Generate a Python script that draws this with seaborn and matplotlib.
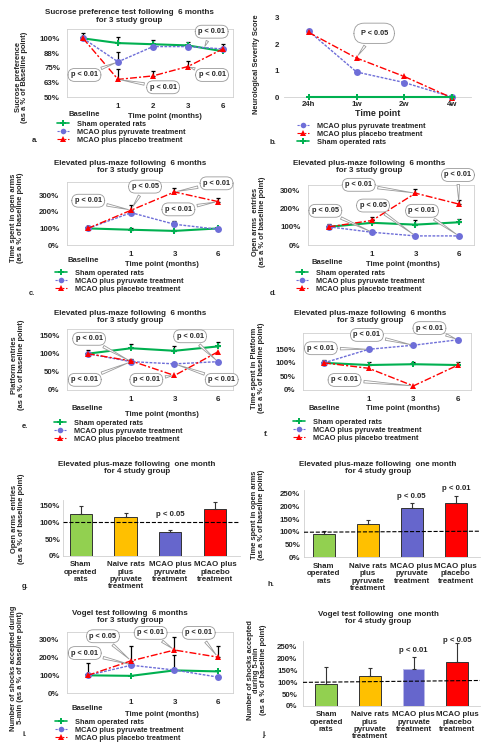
import numpy as np
import matplotlib
matplotlib.use('Agg')
import matplotlib.pyplot as plt
import seaborn as sns
from matplotlib.lines import Line2D

sns.set_style('white')
plt.rcParams['font.family'] = ['Liberation Sans', 'DejaVu Sans']
plt.rcParams['font.weight'] = 'bold'
plt.rcParams['axes.labelweight'] = 'bold'

# ------------------------------------------------------------------ data
SHAM = 'Sham operated rats'
PYR = 'MCAO plus pyruvate treatment'
PLA = 'MCAO plus placebo treatment'

# a. Sucrose preference (6 months)
a_x = ['Baseline', '1', '2', '3', '6']
a_sham = [100, 96, 95, 94, 89]
a_pyr = [100, 80, 93, 93, 91]
a_pla = [100, 65, 68, 76, 91]
a_sham_err = [5, 5, 4, 3, 0]
a_pyr_err = [0, 8, 0, 0, 0]
a_pla_err = [0, 9, 4, 5, 4]
a_yticks = [50, 62.5, 75, 87.5, 100]
a_yticklabels = ['50%', '63%', '75%', '88%', '100%']

# b. Neurological severity score
b_x = ['24h', '1w', '2w', '4w']
b_pyr = [2.5, 0.95, 0.55, 0.0]
b_pla = [2.45, 1.48, 0.78, -0.03]
b_sham = [0, 0, 0, 0]

# c. Time spent in open arms (6 months)
c_x = ['Baseline', '1', '3', '6']
c_sham = [100, 92, 85, 100]
c_pyr = [100, 195, 125, 95]
c_pla = [100, 210, 320, 262]
c_sham_err = [15, 10, 8, 8]
c_pyr_err = [0, 0, 20, 0]
c_pla_err = [0, 30, 22, 22]

# d. Open arms entries (6 months)
d_x = ['Baseline', '1', '3', '6']
d_sham = [100, 122, 112, 125]
d_pyr = [100, 70, 50, 50]
d_pla = [100, 135, 285, 225]
d_sham_err = [15, 15, 25, 20]
d_pyr_err = [0, 0, 0, 0]
d_pla_err = [0, 20, 25, 20]

# e. Platform entries (6 months)
e_x = ['Baseline', '1', '3', '6']
e_sham = [100, 115, 108, 120]
e_pyr = [100, 78, 72, 78]
e_pla = [100, 80, 40, 105]
e_sham_err = [10, 12, 12, 12]
e_pyr_err = [0, 0, 0, 0]
e_pla_err = [0, 5, 0, 0]

# f. Time spent in platform (6 months)
f_x = ['Baseline', '1', '3', '6']
f_sham = [100, 92, 95, 92]
f_pyr = [100, 150, 165, 185]
f_pla = [100, 80, 15, 92]
f_sham_err = [10, 10, 10, 10]
f_pyr_err = [0, 10, 0, 0]
f_pla_err = [0, 0, 0, 0]

# i. Vogel test (6 months)
i_x = ['Baseline', '1', '3', '6']
i_sham = [100, 97, 128, 122]
i_pyr = [100, 157, 130, 90]
i_pla = [100, 182, 243, 203]
i_sham_err = [0, 0, 0, 0]
i_pyr_err = [0, 0, 85, 0]
i_pla_err = [70, 83, 72, 65]

pct_ticks_300 = [0, 100, 200, 300]
pct_labels_300 = ['0%', '100%', '200%', '300%']
pct_ticks_150 = [0, 50, 100, 150]
pct_labels_150 = ['0%', '50%', '100%', '150%']
pct_ticks_250 = [0, 50, 100, 150, 200, 250]
pct_labels_250 = ['0%', '50%', '100%', '150%', '200%', '250%']

# bar charts (one month, 4 groups)
bar_groups = ['Sham\noperated\nrats', 'Naive rats\nplus\npyruvate\ntreatment',
              'MCAO plus\npyruvate\ntreatment', 'MCAO plus\nplacebo\ntreatment']
g_vals = [125, 115, 70, 138]
g_err = [22, 13, 6, 20]
h_vals = [92, 132, 193, 215]
h_err = [12, 13, 22, 25]
j_vals = [95, 125, 155, 185]
j_err = [72, 35, 52, 83]

# ------------------------------------------------------------------ style
colors = {SHAM: '#00B050', PYR: '#6E6ED8', PLA: '#FF0000'}
markers = {SHAM: 'P', PYR: 'o', PLA: '^'}
lstyles = {SHAM: '-', PYR: (0, (2, 1)), PLA: (0, (5, 1.5, 1.5, 1.5))}
lwidths = {SHAM: 1.5, PYR: 1.0, PLA: 1.0}
bar_colors = ['#92D050', '#FFC000', '#6666CC', '#FF0000']
GRID_GREY = '#D0D0D0'
BUBBLE_EC = '#9A9A9A'

W, H = 482, 750
fig = plt.figure(figsize=(W / 100, H / 100), dpi=100)


def axes_px(l, t, r, b):
    return fig.add_axes([l / W, 1 - b / H, (r - l) / W, (b - t) / H])


def ftext(x, y, s, **kw):
    kw.setdefault('ha', 'center')
    kw.setdefault('va', 'center')
    kw.setdefault('fontweight', 'bold')
    fig.text(x / W, 1 - y / H, s, **kw)


def callout(ax, text, tip, txt, pad=0.4, rs=0.9, fs=5.3):
    ax.annotate(text, xy=tip, xytext=txt, textcoords='data', ha='center', va='center',
                fontsize=fs, fontweight='bold', annotation_clip=False, zorder=6,
                bbox=dict(boxstyle=f'round,pad={pad},rounding_size={rs}', fc='white',
                          ec=BUBBLE_EC, lw=0.6),
                arrowprops=dict(arrowstyle='wedge,tail_width=0.35,shrink_factor=0.5',
                                fc='white', ec=BUBBLE_EC, lw=0.6))


def legend_px(ax, order, text_x, row_y):
    handles = [Line2D([], [], color=colors[g], marker=markers[g], linestyle=lstyles[g],
                      lw=lwidths[g] * 0.8, markersize=4, markeredgewidth=0) for g in order]
    ax.legend(handles, order, loc='upper left',
              bbox_to_anchor=((text_x - 20) / W, 1 - (row_y - 4.5) / H),
              bbox_transform=fig.transFigure, frameon=False, fontsize=5.3,
              handlelength=1.6, handletextpad=1.1, labelspacing=0.12,
              borderpad=0, borderaxespad=0)


def line_panel(ax, cats, series, ylim, yticks, yticklabels, xlim, xpad, ypad,
               frame=True):
    pos = np.arange(len(cats))
    for grp, vals, errs in series:
        sns.lineplot(x=pos, y=vals, ax=ax, color=colors[grp], marker=markers[grp],
                     linestyle=lstyles[grp], linewidth=lwidths[grp], markersize=5,
                     markeredgewidth=0, errorbar=None, zorder=3)
        if errs is not None:
            e = np.asarray(errs, float)
            m = e > 0
            if m.any():
                ax.errorbar(pos[m], np.asarray(vals, float)[m],
                            yerr=[np.zeros(m.sum()), e[m]], fmt='none',
                            ecolor='black', elinewidth=0.9, capsize=1.3,
                            capthick=0.9, zorder=2)
    ax.set_xlim(*xlim)
    ax.set_ylim(*ylim)
    ax.set_yticks(yticks, yticklabels)
    ax.set_xticks(pos, [c if c != 'Baseline' else '' for c in cats])
    ax.tick_params(axis='x', length=0, pad=xpad, labelsize=5.7)
    ax.tick_params(axis='y', length=0, pad=ypad, labelsize=5.7)
    ax.set_xlabel('')
    ax.set_ylabel('')
    for s in ax.spines.values():
        s.set_color(GRID_GREY)
        s.set_linewidth(0.6)
        s.set_visible(frame)


def bar_panel(ax, vals, errs, ylim, yticks, yticklabels, xlim, xpad, ypad, ref, edges):
    pos = np.arange(len(bar_groups))
    sns.barplot(x=bar_groups, y=vals, hue=bar_groups, palette=bar_colors, legend=False,
                ax=ax, width=0.5, linewidth=0.7, saturation=1)
    for p, ec in zip(ax.patches, edges):
        p.set_edgecolor(ec)
    ax.errorbar(pos, vals, yerr=[np.zeros(len(vals)), errs], fmt='none', ecolor='#333333',
                elinewidth=0.8, capsize=1.3, capthick=0.8, zorder=1)
    ax.plot(list(xlim), ref, ls='--', color='black', lw=0.8, zorder=3)
    ax.set_xlim(*xlim)
    ax.set_ylim(*ylim)
    ax.set_yticks(yticks, yticklabels)
    ax.tick_params(axis='x', length=0, pad=xpad, labelsize=5.7)
    ax.tick_params(axis='y', length=0, pad=ypad, labelsize=5.7)
    for lab in ax.get_xticklabels():
        lab.set_linespacing(1.1)
        lab.set_fontweight('bold')
    ax.set_xlabel('')
    ax.set_ylabel('')
    for k, s in ax.spines.items():
        s.set_color(GRID_GREY)
        s.set_linewidth(0.6)
        s.set_visible(k in ('left', 'bottom'))


TITLE6 = 'Elevated plus-maze following  6 months\nfor 3 study group'
TITLE1 = 'Elevated plus-maze following  one month\nfor 4 study group'
TFS = 5.8
LFS = 5.4
XFS = 5.5
YLS = 0.95
DARK = ['#333333'] * 4

# ------------------------------------------------------------------ a
ax = axes_px(67, 29, 233, 97)
line_panel(ax, a_x, [(SHAM, a_sham, a_sham_err), (PYR, a_pyr, a_pyr_err), (PLA, a_pla, a_pla_err)],
           (50, 108), a_yticks, a_yticklabels, (-0.46, 4.29), 4, 5)
callout(ax, 'p < 0.01', (1, 80), (0.04, 68.8))
callout(ax, 'p < 0.01', (1, 65), (2.29, 58.3))
callout(ax, 'p < 0.01', (3, 76), (3.69, 68.8))
callout(ax, 'p < 0.01', (3.45, 91), (3.68, 105.7))
ftext(129, 16.5, 'Sucrose preference test following  6 months\nfor 3 study group', fontsize=TFS, linespacing=1.05)
ftext(21.5, 77, 'Sucrose preference\n(as a % of Baseline point)', fontsize=LFS, rotation=90, linespacing=YLS)
ftext(84, 115, a_x[0], fontsize=XFS)
ftext(165, 116, 'Time point (months)', fontsize=XFS)
ftext(35, 140, 'a.', fontsize=5.5)
legend_px(ax, [SHAM, PYR, PLA], 77, 125)

# ------------------------------------------------------------------ b
ax = axes_px(284, 18, 471, 97)
line_panel(ax, b_x, [(PYR, b_pyr, None), (PLA, b_pla, None), (SHAM, b_sham, None)],
           (0, 3), [0, 1, 2, 3], ['0', '1', '2', '3'], (-0.52, 3.4), 3, 3.6, frame=False)
ax.spines['bottom'].set_visible(True)
for l in ax.lines:
    l.set_clip_on(False)
callout(ax, 'P < 0.05', (1, 1.5), (1.37, 2.42), pad=0.9, rs=1.4)
ftext(256, 64, 'Neurological Severity Score', fontsize=5.4, rotation=90)
ftext(378, 114, 'Time point', fontsize=6.4)
ftext(273, 142, 'b.', fontsize=5.5)
legend_px(ax, [PYR, PLA, SHAM], 317, 127)

# ------------------------------------------------------------------ c
ax = axes_px(67, 182, 233, 245)
line_panel(ax, c_x, [(SHAM, c_sham, c_sham_err), (PYR, c_pyr, c_pyr_err), (PLA, c_pla, c_pla_err)],
           (0, 380), pct_ticks_300, pct_labels_300, (-0.48, 3.35), 4, 5.5)
callout(ax, 'p < 0.01', (1, 210), (0.01, 267))
callout(ax, 'p < 0.05', (1, 215), (1.32, 352))
callout(ax, 'p < 0.01', (2, 320), (2.97, 372))
callout(ax, 'p < 0.01', (3, 262), (2.09, 215))
ftext(130, 167, TITLE6, fontsize=TFS, linespacing=1.05)
ftext(17, 218, 'Time spent in open arms\n(as a % of baseline point)', fontsize=LFS, rotation=90, linespacing=YLS)
ftext(83, 260, c_x[0], fontsize=XFS)
ftext(162, 265, 'Time point (months)', fontsize=XFS)
ftext(32, 293, 'c.', fontsize=5.5)
legend_px(ax, [SHAM, PYR, PLA], 75, 274)

# ------------------------------------------------------------------ d
ax = axes_px(308, 185, 474, 245)
line_panel(ax, d_x, [(SHAM, d_sham, d_sham_err), (PYR, d_pyr, d_pyr_err), (PLA, d_pla, d_pla_err)],
           (0, 330), pct_ticks_300, pct_labels_300, (-0.48, 3.35), 4, 5.5)
callout(ax, 'p < 0.05', (1, 70), (-0.08, 188))
callout(ax, 'p < 0.05', (2, 50), (1.02, 217))
callout(ax, 'p < 0.01', (2, 285), (0.69, 331))
callout(ax, 'p < 0.01', (3, 225), (2.98, 385))
callout(ax, 'p < 0.01', (3, 50), (2.15, 188))
ftext(369, 167, TITLE6, fontsize=TFS, linespacing=1.05)
ftext(259, 222, 'Open arms  entries\n(as a % of baseline point)', fontsize=LFS, rotation=90, linespacing=YLS)
ftext(327, 263, d_x[0], fontsize=XFS)
ftext(403, 265, 'Time point (months)', fontsize=XFS)
ftext(273, 293, 'd.', fontsize=5.5)
legend_px(ax, [SHAM, PYR, PLA], 316, 274)

# ------------------------------------------------------------------ e
ax = axes_px(67, 329, 233, 390)
line_panel(ax, e_x, [(SHAM, e_sham, e_sham_err), (PYR, e_pyr, e_pyr_err), (PLA, e_pla, e_pla_err)],
           (0, 168), pct_ticks_150, pct_labels_150, (-0.48, 3.35), 4.3, 5.5)
callout(ax, 'p < 0.01', (1, 78), (0.03, 141))
callout(ax, 'p < 0.01', (1, 78), (-0.07, 28))
callout(ax, 'p < 0.01', (2, 40), (1.35, 28))
callout(ax, 'p < 0.01', (3, 78), (2.36, 148))
callout(ax, 'p < 0.01', (2, 72), (3.09, 28))
ftext(130, 317, TITLE6, fontsize=TFS, linespacing=1.05)
ftext(18, 365, 'Platform entries\n(as a % of baseline point)', fontsize=LFS, rotation=90, linespacing=YLS)
ftext(87, 408, e_x[0], fontsize=XFS)
ftext(162, 415, 'Time point (months)', fontsize=XFS)
ftext(25, 427, 'e.', fontsize=5.5)
legend_px(ax, [SHAM, PYR, PLA], 74, 424)

# ------------------------------------------------------------------ f
ax = axes_px(303, 333, 471, 390)
line_panel(ax, f_x, [(SHAM, f_sham, f_sham_err), (PYR, f_pyr, f_pyr_err), (PLA, f_pla, f_pla_err)],
           (0, 210), pct_ticks_150, pct_labels_150, (-0.47, 3.29), 4.3, 5.5)
callout(ax, 'p < 0.01', (1, 150), (-0.07, 154))
callout(ax, 'p < 0.01', (2, 165), (0.96, 203))
callout(ax, 'p < 0.01', (3, 185), (2.36, 228))
callout(ax, 'p < 0.01', (2, 15), (0.46, 37))
ftext(370, 317, TITLE6, fontsize=TFS, linespacing=1.05)
ftext(258, 368, 'Time spent in Platform\n(as a % of baseline point)', fontsize=LFS, rotation=90, linespacing=YLS)
ftext(324, 408, f_x[0], fontsize=XFS)
ftext(403, 409, 'Time point (months)', fontsize=XFS)
ftext(266, 435, 'f.', fontsize=5.5)
legend_px(ax, [SHAM, PYR, PLA], 313, 423)

# ------------------------------------------------------------------ g
ax = axes_px(63, 500, 240, 556)
bar_panel(ax, g_vals, g_err, (0, 165), pct_ticks_150, pct_labels_150, (-0.40, 3.56), 3.6, 2,
          [100, 100], DARK)
ax.text(2, 123, 'p < 0.05', ha='center', va='center', fontsize=5.6, fontweight='bold')
ftext(137, 468, TITLE1, fontsize=TFS, linespacing=1.05)
ftext(18, 519, 'Open arms  entries\n(as a % of baseline point)', fontsize=LFS, rotation=90, linespacing=YLS)
ftext(25, 587, 'g.', fontsize=5.5)

# ------------------------------------------------------------------ h
ax = axes_px(304, 490, 480, 557)
bar_panel(ax, h_vals, h_err, (0, 265), pct_ticks_250, pct_labels_250, (-0.45, 3.55), 4, 2.7,
          [98, 102], DARK)
ax.text(2, 240, 'p < 0.05', ha='center', va='center', fontsize=5.6, fontweight='bold')
ax.text(3, 270, 'p < 0.01', ha='center', va='center', fontsize=5.6, fontweight='bold')
ftext(378, 468, TITLE1, fontsize=TFS, linespacing=1.05)
ftext(258, 515, 'Time spent in open arms\n(as a % of baseline point)', fontsize=LFS, rotation=90, linespacing=YLS)
ftext(271, 585, 'h.', fontsize=5.5)

# ------------------------------------------------------------------ i
ax = axes_px(67, 632, 233, 693)
line_panel(ax, i_x, [(SHAM, i_sham, i_sham_err), (PYR, i_pyr, i_pyr_err), (PLA, i_pla, i_pla_err)],
           (0, 345), pct_ticks_300, pct_labels_300, (-0.48, 3.35), 4.3, 5.5)
callout(ax, 'p < 0.01', (1, 160), (-0.07, 226))
callout(ax, 'p < 0.05', (1, 182), (0.35, 321))
callout(ax, 'p < 0.01', (2, 243), (1.45, 340))
callout(ax, 'p < 0.01', (3, 203), (2.56, 340))
ftext(130, 617, 'Vogel test following  6 months\nfor 3 study group', fontsize=TFS, linespacing=1.05)
ftext(17, 668, 'Number of shocks accepted during\n5-min (as a % of baseline point)', fontsize=LFS, rotation=90, linespacing=YLS)
ftext(87, 709, i_x[0], fontsize=XFS)
ftext(162, 715, 'Time point (months)', fontsize=XFS)
ftext(25, 735, 'i.', fontsize=5.5)
legend_px(ax, [SHAM, PYR, PLA], 75, 723)

# ------------------------------------------------------------------ j
ax = axes_px(303, 641, 480, 706)
bar_panel(ax, j_vals, j_err, (0, 275), pct_ticks_250, pct_labels_250, (-0.53, 3.52), 3.6, 4,
          [100, 108], ['#333333', '#333333', '#B8B8E8', '#333333'])
ax.text(2, 235, 'p < 0.01', ha='center', va='center', fontsize=5.6, fontweight='bold')
ax.text(3, 278, 'p < 0.05', ha='center', va='center', fontsize=5.6, fontweight='bold')
ftext(378, 618, 'Vogel test following  one month\nfor 4 study group', fontsize=TFS, linespacing=1.05)
ftext(257, 670, 'Number of shocks accepted\nduring 5-min\n(as a % of baseline point)', fontsize=LFS, rotation=90, linespacing=YLS)
ftext(264, 735, 'j.', fontsize=5.5)

fig.savefig('out.png', dpi=100, facecolor='white')
